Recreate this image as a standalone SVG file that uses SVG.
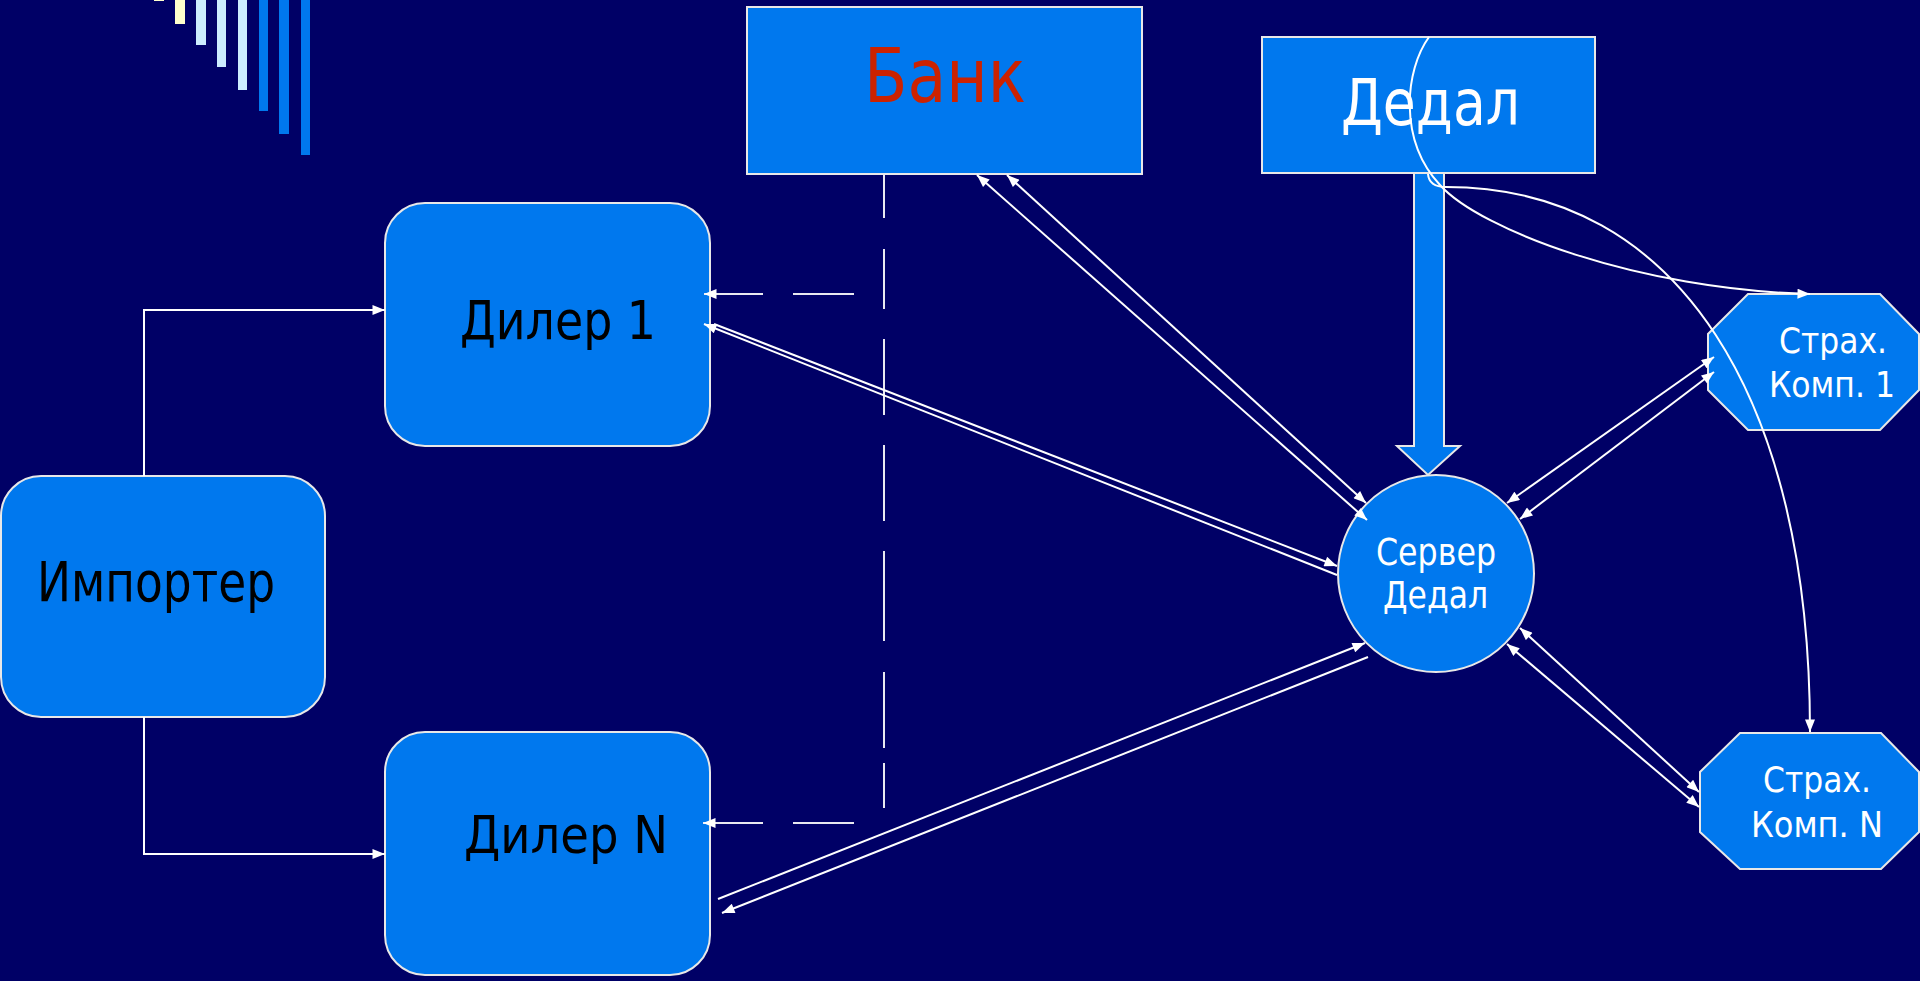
<svg xmlns="http://www.w3.org/2000/svg" width="1920" height="981" viewBox="0 0 1920 981">
<defs>
<style>
.box{fill:#0078EE;stroke:#E8E8E8;stroke-width:2}
.lbl{font-family:"DejaVu Sans",sans-serif;}
.w{fill:#FFFFFF}
.k{fill:#000000}
.ln{fill:none;stroke:#FFFFFF;stroke-width:2}
.dash{fill:none;stroke:#E8E8F0;stroke-width:2}
</style>
<marker id="ah" viewBox="0 0 10 8" refX="10" refY="4" markerWidth="14" markerHeight="10" markerUnits="userSpaceOnUse" orient="auto-start-reverse">
<path d="M0,0 L10,4 L0,8 z" fill="#FFFFFF"/>
</marker>
</defs>
<rect x="0" y="0" width="1920" height="981" fill="#000066"/>
<g id="deco">
<rect x="154" y="0" width="10" height="1" fill="#FFFFCC"/>
<rect x="175" y="0" width="10" height="24" fill="#FFFFCC"/>
<rect x="196" y="0" width="10" height="45" fill="#CCECFF"/>
<rect x="217" y="0" width="9" height="67" fill="#CCECFF"/>
<rect x="238" y="0" width="9" height="90" fill="#CCECFF"/>
<rect x="259" y="0" width="9" height="111" fill="#0078EE"/>
<rect x="279" y="0" width="10" height="134" fill="#0078EE"/>
<rect x="301" y="0" width="9" height="155" fill="#0078EE"/>
</g>
<g id="bank">
<rect class="box" x="747" y="7" width="395" height="167"/>
<text class="lbl" x="864" y="102" font-size="75" fill="#CC2200" textLength="162" lengthAdjust="spacingAndGlyphs">Банк</text>
</g>
<g id="dedal">
<rect class="box" x="1262" y="37" width="333" height="136"/>
<text class="lbl w" x="1341" y="125" font-size="64" textLength="179" lengthAdjust="spacingAndGlyphs">Дедал</text>
</g>
<g id="dedal-arrow">
<polygon class="box" points="1414,173 1444,173 1444,446 1460,446 1428,475 1397,446 1414,446"/>
</g>
<g id="dealer1">
<rect class="box" x="385" y="203" width="325" height="243" rx="40" ry="40"/>
<text class="lbl k" x="460" y="339" font-size="53" textLength="196" lengthAdjust="spacingAndGlyphs">Дилер 1</text>
</g>
<g id="importer">
<rect class="box" x="1" y="476" width="324" height="241" rx="40" ry="40"/>
<text class="lbl k" x="37" y="601" font-size="55" textLength="238" lengthAdjust="spacingAndGlyphs">Импортер</text>
</g>
<g id="dealerN">
<rect class="box" x="385" y="732" width="325" height="243" rx="40" ry="40"/>
<text class="lbl k" x="464" y="853" font-size="52" textLength="204" lengthAdjust="spacingAndGlyphs">Дилер N</text>
</g>
<g id="server">
<ellipse class="box" cx="1436" cy="573.5" rx="98" ry="98.5"/>
<text class="lbl w" x="1376" y="565" font-size="37" textLength="120" lengthAdjust="spacingAndGlyphs">Сервер</text>
<text class="lbl w" x="1383" y="608" font-size="37" textLength="105" lengthAdjust="spacingAndGlyphs">Дедал</text>
</g>
<g id="ins1">
<polygon class="box" points="1748,294 1880,294 1919,334 1919,390 1880,430 1748,430 1708,390 1708,334"/>
<text class="lbl w" x="1779" y="353" font-size="36" textLength="108" lengthAdjust="spacingAndGlyphs">Страх.</text>
<text class="lbl w" x="1769" y="397" font-size="36" textLength="126" lengthAdjust="spacingAndGlyphs">Комп. 1</text>
</g>
<g id="insN">
<polygon class="box" points="1740,733 1881,733 1919,772 1919,832 1881,869 1740,869 1700,832 1700,772"/>
<text class="lbl w" x="1763" y="792" font-size="36" textLength="108" lengthAdjust="spacingAndGlyphs">Страх.</text>
<text class="lbl w" x="1751" y="837" font-size="36" textLength="132" lengthAdjust="spacingAndGlyphs">Комп. N</text>
</g>
<g id="connectors">
<path class="dash" d="M884,174 V808" stroke-dasharray="44 31 60 30 76 30 76 30 90 31 76 15 45"/>
<path class="dash" d="M854,294 H704" stroke-dasharray="61 30" marker-end="url(#ah)"/>
<path class="dash" d="M854,823 H703" stroke-dasharray="61 30" marker-end="url(#ah)"/>
<path class="ln" d="M144,476 V310 H385" marker-end="url(#ah)"/>
<path class="ln" d="M144,717 V854 H385" marker-end="url(#ah)"/>
<line class="ln" x1="1007" y1="175" x2="1366" y2="503" marker-start="url(#ah)" marker-end="url(#ah)"/>
<line class="ln" x1="977" y1="175" x2="1367" y2="520" marker-start="url(#ah)" marker-end="url(#ah)"/>
<line class="ln" x1="714" y1="324" x2="1337" y2="566" marker-end="url(#ah)"/>
<line class="ln" x1="1337" y1="575" x2="704" y2="324" marker-end="url(#ah)"/>
<line class="ln" x1="718" y1="899" x2="1365" y2="643" marker-end="url(#ah)"/>
<line class="ln" x1="1368" y1="657" x2="722" y2="913" marker-end="url(#ah)"/>
<line class="ln" x1="1507" y1="503" x2="1714" y2="357" marker-start="url(#ah)" marker-end="url(#ah)"/>
<line class="ln" x1="1520" y1="519" x2="1714" y2="372" marker-start="url(#ah)" marker-end="url(#ah)"/>
<line class="ln" x1="1520" y1="628" x2="1699" y2="792" marker-start="url(#ah)" marker-end="url(#ah)"/>
<line class="ln" x1="1507" y1="644" x2="1699" y2="807" marker-start="url(#ah)" marker-end="url(#ah)"/>
<path class="ln" d="M1429,37 C1405,70 1398,140 1440,185 C1480,230 1640,290 1810,294" marker-end="url(#ah)"/>
<path class="ln" d="M1428,174 Q1429,187 1446,187 C1680,187 1810,400 1810,732" marker-end="url(#ah)"/>
</g>
</svg>
